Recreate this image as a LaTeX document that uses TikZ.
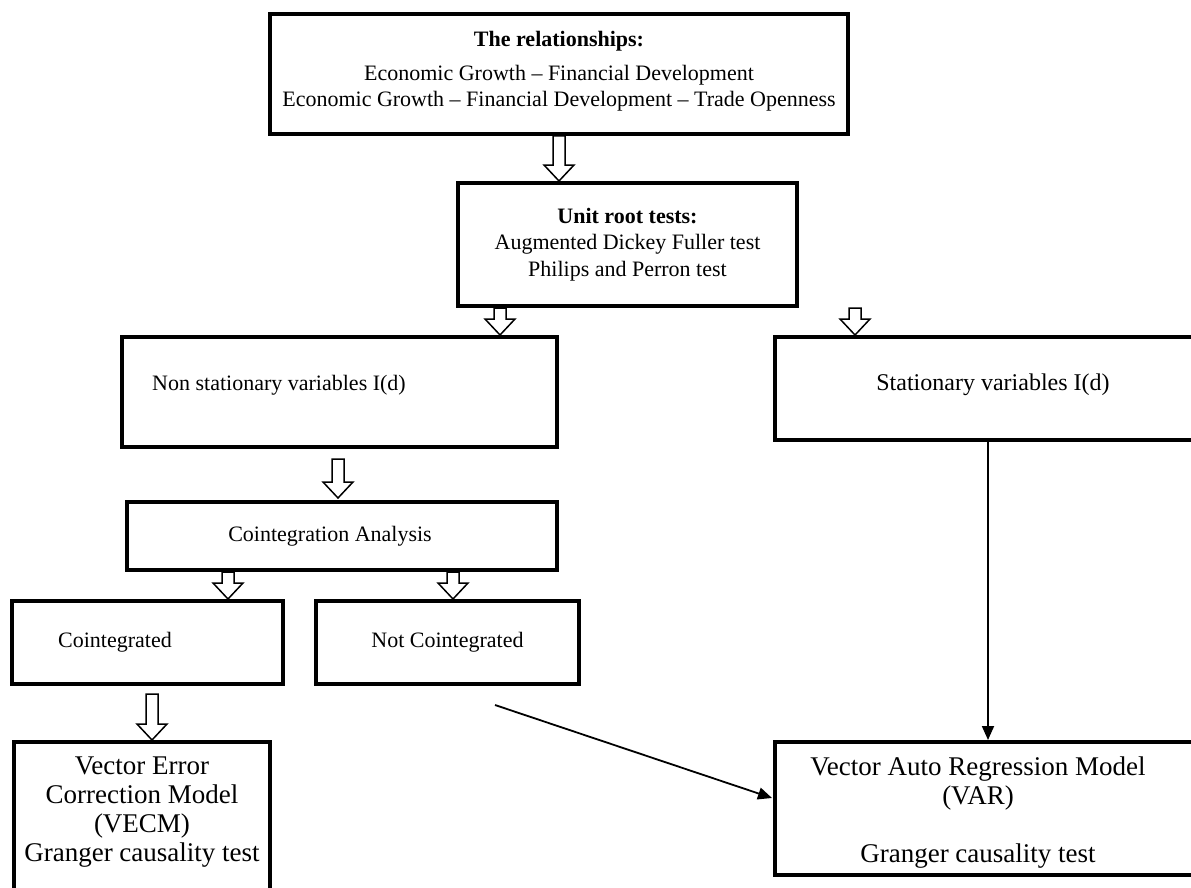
\documentclass[tikz,border=0pt]{standalone}
\usepackage{fontspec}
\setmainfont{Liberation Serif}
\usetikzlibrary{calc,arrows.meta}
\tikzset{
  box/.style={draw, line width=4pt, rectangle, inner sep=0pt, font=\fontsize{22}{26.5}\selectfont, align=center},
  txt/.style={inner sep=0pt, font=\fontsize{22}{25}\selectfont, align=center},
  bigtxt/.style={inner sep=0pt, font=\fontsize{27}{29}\selectfont, align=center},
  hollow/.style={draw, line width=1.5pt, fill=white, line join=miter},
  thin/.style={draw, line width=1.8pt, -{Triangle[length=14pt,width=12pt]}}
}
\newcommand\harrow[2]{%
  \path[hollow] let \p1=#1, \p2=#2 in
   (\x1-6pt,\y1) -- (\x1+6pt,\y1) -- (\x1+6pt,\y2+16pt) -- (\x1+15pt,\y2+16pt) --
   (\x1,\y2) -- (\x1-15pt,\y2+16pt) -- (\x1-6pt,\y2+16pt) -- cycle;}
\begin{document}
\begin{tikzpicture}[x=1pt,y=-1pt]
\clip (0,0) rectangle (1191,888);
\fill[white] (0,0) rectangle (1191,888);
% boxes
\node[box, minimum width=578pt, minimum height=120pt] (top) at (559,74) {};
\node[txt, anchor=north, font=\fontsize{22}{26}\selectfont] (topt) at (559,31)
  {\textbf{The relationships:}\\[8pt]Economic Growth -- Financial Development\\Economic Growth -- Financial Development -- Trade Openness};
\node[box, minimum width=339pt, minimum height=123pt] (unit) at (627.5,244.5)
  {\textbf{Unit root tests:}\\Augmented Dickey Fuller test\\Philips and Perron test};
\node[box, minimum width=435pt, minimum height=110pt] (nonst) at (339.5,392) {};
\node[txt] (nonstt) at (279,385) {Non stationary variables I(d)};
\node[box, minimum width=425pt, minimum height=103pt] (stat) at (987.5,388.5) {};
\node[txt, font=\fontsize{24}{27}\selectfont] (statt) at (993,385) {Stationary variables I(d)};
\node[box, minimum width=430pt, minimum height=68pt] (coint) at (342,536) {};
\node[txt] (cointt) at (330,536) {Cointegration Analysis};
\node[box, minimum width=271pt, minimum height=83pt] (cd) at (147.5,642.5) {};
\node[txt] (cdt) at (115,642) {Cointegrated};
\node[box, minimum width=263pt, minimum height=83pt] (ncd) at (447.5,642.5) {Not Cointegrated};
\node[box, minimum width=256pt, minimum height=200pt, anchor=north west] (vecm) at (12,740) {};
\node[bigtxt, anchor=north] (vecmt) at (142,757) {Vector Error\\Correction Model\\(VECM)\\Granger causality test};
\node[box, minimum width=450pt, minimum height=133pt, anchor=north west] (var) at (773,740) {};
\node[bigtxt, anchor=north] (vart) at (978,757) {Vector Auto Regression Model\\(VAR)\\[29pt]Granger causality test};
% hollow arrows
\harrow{(top.south)}{(unit.north -| top.south)}
\harrow{(unit.south -| 500,0)}{(nonst.north -| 500,0)}
\harrow{(unit.south -| 855,0)}{(stat.north -| 855,0)}
\harrow{($(nonst.south -| 338,0)+(0,10)$)}{($(coint.north -| 338,0)+(0,-2)$)}
\harrow{(coint.south -| 228,0)}{(cd.north -| 228,0)}
\harrow{(coint.south -| 453,0)}{(ncd.north -| 453,0)}
\harrow{($(cd.south -| 152,0)+(0,8)$)}{(vecm.north -| 152,0)}
% thin arrows
\coordinate (s1) at (495,705);
\coordinate (e1) at (772,798);
\draw[thin] (s1) -- (e1);
\draw[thin] (stat.south -| 988,0) -- (var.north -| 988,0);
\end{tikzpicture}
\end{document}
